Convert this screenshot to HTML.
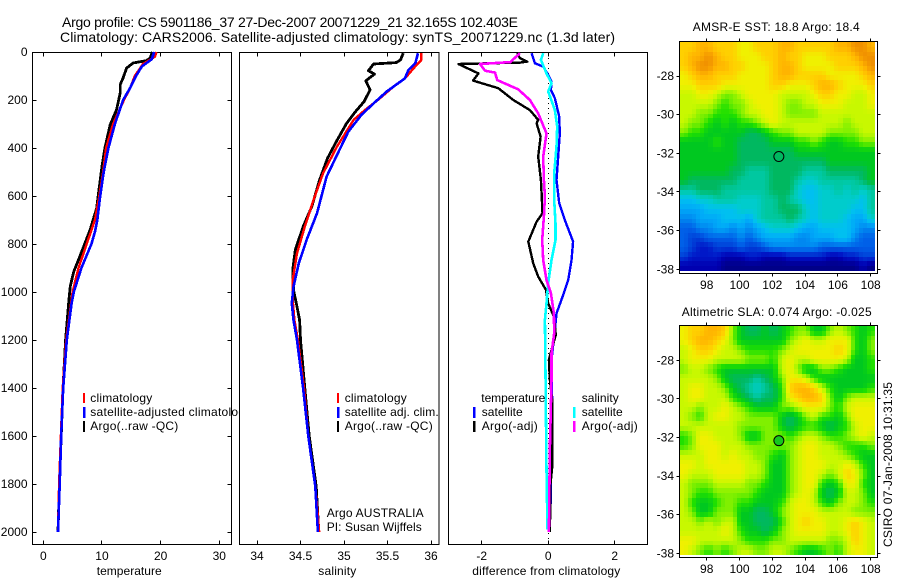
<!DOCTYPE html>
<html>
<head>
<meta charset="utf-8">
<title>Argo profile</title>
<style>
html,body{margin:0;padding:0;background:#fff;}
svg{display:block;font-family:"Liberation Sans",sans-serif;font-size:12px;fill:#000;}
.frame{fill:#fff;stroke:#000;stroke-width:1;shape-rendering:crispEdges;}
.nofill{fill:none;stroke:#000;stroke-width:1;shape-rendering:crispEdges;}
.tick{stroke:#000;stroke-width:1;shape-rendering:crispEdges;}
.series{fill:none;shape-rendering:crispEdges;stroke-linejoin:round;}
</style>
</head>
<body>
<svg id="chart" xmlns="http://www.w3.org/2000/svg" width="900" height="580" viewBox="0 0 900 580">
  <rect x="0" y="0" width="900" height="580" fill="#fff"/>
  <text x="62" y="27" font-size="14" textLength="456" lengthAdjust="spacing">Argo profile: CS 5901186_37 27-Dec-2007 20071229_21 32.165S 102.403E</text>
  <text x="60" y="42" font-size="14" textLength="555" lengthAdjust="spacing">Climatology: CARS2006. Satellite-adjusted climatology: synTS_20071229.nc (1.3d later)</text>

  <g id="panel-temp">
    <rect class="frame" x="32.5" y="52.5" width="199" height="492"/>
    <g id="temp-series"></g>
    <g id="temp-ticks"></g>
    <text x="96.7" y="575" textLength="65">temperature</text>
    <g>
      <rect x="83" y="393" width="2" height="10" fill="#ff0000"/>
      <rect x="83" y="407" width="2.5" height="11" fill="#0000ff"/>
      <rect x="83" y="421" width="2" height="11" fill="#000"/>
      <text x="90.3" y="402" textLength="62">climatology</text>
      <text x="90.3" y="416" textLength="161">satellite-adjusted climatology</text>
      <text x="90.3" y="430" textLength="88">Argo(..raw -QC)</text>
    </g>
  </g>

  <g id="panel-sal">
    <rect class="frame" x="239.5" y="52.5" width="199.5" height="492"/>
    <g id="sal-series"></g>
    <g id="sal-ticks"></g>
    <text x="318.3" y="575" textLength="38">salinity</text>
    <g>
      <rect x="337" y="393" width="2" height="10" fill="#ff0000"/>
      <rect x="337" y="407" width="2.5" height="11" fill="#0000ff"/>
      <rect x="337" y="421" width="2" height="11" fill="#000"/>
      <text x="344.7" y="402" textLength="62">climatology</text>
      <text x="344.7" y="416" textLength="94">satellite adj. clim.</text>
      <text x="344.7" y="430" textLength="88">Argo(..raw -QC)</text>
    </g>
    <text x="326.7" y="517" textLength="97">Argo AUSTRALIA</text>
    <text x="326.7" y="531" textLength="95">PI: Susan Wijffels</text>
  </g>

  <g id="panel-diff">
    <rect class="frame" x="448.5" y="52.5" width="199" height="492"/>
    <line id="zero-line" stroke="#000" stroke-width="1" stroke-dasharray="1 4" shape-rendering="crispEdges"/>
    <g id="diff-series"></g>
    <g id="diff-ticks"></g>
    <text x="472.3" y="575" textLength="148">difference from climatology</text>
    <g>
      <text x="481.3" y="402" textLength="64">temperature</text>
      <rect x="473" y="407" width="2.5" height="11" fill="#0000ff"/>
      <text x="481.7" y="416" textLength="41">satellite</text>
      <rect x="473" y="421" width="2.5" height="11" fill="#000"/>
      <text x="481.7" y="430" textLength="56">Argo(-adj)</text>
      <text x="581.7" y="402" textLength="37">salinity</text>
      <rect x="573" y="407" width="2.5" height="11" fill="#00ffff"/>
      <text x="581.7" y="416" textLength="41">satellite</text>
      <rect x="573" y="421" width="2.5" height="11" fill="#ff00ff"/>
      <text x="581.7" y="430" textLength="56">Argo(-adj)</text>
    </g>
  </g>

  <g id="map-sst"></g>
  <g id="map-sla"></g>
  <text x="692.7" y="31" textLength="167">AMSR-E SST: 18.8 Argo: 18.4</text>
  <text x="681.7" y="316" textLength="190">Altimetric SLA: 0.074 Argo: -0.025</text>
  <text transform="translate(892,547) rotate(-90)" textLength="165">CSIRO 07-Jan-2008 10:31:35</text>
</svg>

<script>
// ---------- profile data ----------
const tempTicks = [0, 10, 20, 30];
const salTicks = [34, 34.5, 35, 35.5, 36];
const salTickLabels = ['34', '34.5', '35', '35.5', '36'];
const diffTicks = [-2, 0, 2];
const depthTicks = [0, 200, 400, 600, 800, 1000, 1200, 1400, 1600, 1800, 2000];

const tempArgoDepth = [0, 25, 36, 46, 67, 108, 136, 171, 240, 303, 400, 476, 573, 650, 740, 835, 915, 975, 1025, 1200, 1400, 1600, 1800, 2000];
const tempArgoValues = [18.6, 18.2, 17.6, 15.3, 14.2, 13.6, 13.1, 13.1, 12.5, 11.4, 10.5, 10, 9.5, 9.1, 8, 6.5, 5.2, 4.6, 4.4, 3.8, 3.35, 3.05, 2.75, 2.5];
const tempClimDepth = [0, 20, 50, 100, 150, 200, 300, 400, 500, 600, 700, 800, 900, 1000, 1200, 1400, 1600, 1800, 2000];
const tempClimValues = [19.3, 19, 17, 15.6, 14.8, 13.75, 11.9, 10.7, 10.2, 9.55, 8.8, 7.4, 6, 5, 3.9, 3.3, 3, 2.7, 2.5];
const tempSatDepth = [0, 30, 60, 100, 150, 200, 300, 400, 500, 600, 700, 750, 800, 900, 1000, 1050, 1200, 1400, 1600, 1800, 2000];
const tempSatValues = [18.9, 18.5, 16.8, 15.8, 14.8, 13.6, 12.2, 11.1, 10.3, 9.7, 9.2, 8.8, 8.2, 6.5, 5.2, 4.8, 4, 3.4, 3.05, 2.8, 2.5];

const salArgoDepth = [5, 33, 44, 50, 78, 92, 120, 158, 207, 249, 297, 374, 443, 533, 644, 728, 825, 908, 992, 1061, 1117, 1200, 1400, 1600, 1810, 2000];
const salArgoValues = [35.68, 35.65, 35.6, 35.34, 35.28, 35.35, 35.25, 35.3, 35.23, 35.13, 35.03, 34.91, 34.81, 34.72, 34.63, 34.53, 34.44, 34.41, 34.42, 34.46, 34.49, 34.5, 34.55, 34.6, 34.68, 34.71];
const salClimDepth = [5, 33, 68, 110, 144, 200, 242, 283, 394, 505, 617, 728, 839, 950, 1033, 1117, 1200, 1400, 1600, 1810, 2000];
const salClimValues = [35.89, 35.89, 35.8, 35.7, 35.57, 35.39, 35.24, 35.11, 34.92, 34.76, 34.65, 34.55, 34.46, 34.41, 34.41, 34.43, 34.47, 34.54, 34.59, 34.67, 34.715];
const salSatDepth = [5, 47, 75, 110, 165, 214, 262, 332, 429, 519, 672, 783, 880, 978, 1047, 1117, 1200, 1400, 1600, 1810, 2000];
const salSatValues = [35.85, 35.82, 35.74, 35.7, 35.49, 35.34, 35.2, 35.05, 34.92, 34.8, 34.69, 34.57, 34.48, 34.42, 34.4, 34.42, 34.46, 34.53, 34.59, 34.67, 34.7];

const diffTempSatDepth = [5, 47, 61, 96, 124, 158, 193, 269, 339, 436, 533, 630, 700, 790, 867, 950, 1012, 1089, 1158, 1283, 1367, 1450, 1600, 1900, 2000];
const diffTempSatValues = [-0.5, -0.4, -0.15, 0, 0.1, 0.08, 0.2, 0.33, 0.35, 0.3, 0.25, 0.33, 0.5, 0.75, 0.7, 0.6, 0.45, 0.25, 0.2, 0.1, 0.1, 0.12, 0.1, 0.07, 0.03];
const diffTempArgoDepth = [5, 26, 40, 44, 50, 89, 119, 151, 200, 242, 283, 297, 353, 436, 533, 589, 672, 707, 790, 880, 936, 991, 1047, 1103, 1179, 1241, 1283, 1367, 1450, 1730, 1800, 2000];
const diffTempArgoValues = [-0.93, -0.85, -0.63, -0.85, -2.7, -2.1, -2.26, -1.5, -1.05, -0.55, -0.3, -0.35, -0.23, -0.3, -0.22, -0.2, -0.17, -0.35, -0.6, -0.45, -0.3, -0.07, 0, 0.17, 0.23, 0.1, 0.02, 0.05, 0.12, 0.12, 0.07, 0.05];
const diffSalSatDepth = [5, 33, 89, 130, 165, 242, 311, 394, 505, 616, 714, 783, 867, 964, 1047, 1117, 1339, 1500, 1740, 1990];
const diffSalSatValues = [-0.15, -0.22, -0.05, 0.1, 0, 0.2, 0.27, 0.25, 0.18, 0.18, 0.22, 0.22, 0.1, 0, -0.05, -0.1, -0.08, -0.07, -0.05, -0.02];
const diffSalArgoDepth = [5, 42, 50, 78, 86, 117, 156, 200, 256, 339, 436, 533, 602, 686, 783, 867, 950, 1005, 1089, 1172, 1255, 1367, 1644, 2000];
const diffSalArgoValues = [-0.85, -1.14, -2.05, -1.9, -1.6, -1.53, -0.9, -0.55, -0.3, -0.05, -0.15, -0.13, -0.1, -0.13, -0.18, -0.15, -0.05, 0.08, 0.17, 0.18, 0.1, 0.1, 0.05, 0.02];

// ---------- map data (colour-level per 0.5 degree cell, north at top) ----------
const mapLonTicks = [98, 100, 102, 104, 106, 108];
const mapLatTicks = [-28, -30, -32, -34, -36, -38];
const argoLon = [102.4];
const argoLat = [-32.165];

const sstLevels = [
[16,16,17,17,16,16,16,15,15,16,16,16,17,17,16,16,16,16,16,17,17,18,18,17],
[16,17,17,18,17,16,16,15,15,15,16,16,17,16,16,15,15,15,16,16,16,17,18,18],
[16,17,18,18,17,17,16,16,15,15,15,16,17,17,16,15,15,15,15,16,16,16,17,18],
[15,16,17,17,16,16,16,15,15,15,15,16,17,17,16,16,16,16,15,15,15,15,16,17],
[15,15,16,16,16,15,15,15,15,15,15,16,16,15,15,15,16,17,17,16,15,15,15,16],
[14,14,15,15,14,13,13,14,15,15,15,15,14,14,14,14,15,16,16,15,15,14,14,15],
[14,14,14,14,13,12,13,13,14,15,15,15,14,13,13,14,14,15,15,15,14,14,14,15],
[14,14,13,13,12,12,12,13,14,14,15,15,14,13,13,13,13,14,14,14,14,14,14,14],
[14,13,13,12,11,12,11,12,12,13,14,15,14,14,14,14,14,14,14,14,13,14,14,14],
[13,12,12,11,11,11,11,11,10,10,11,12,13,13,14,14,14,14,13,13,13,13,14,14],
[11,11,11,11,12,11,11,10,10,10,10,11,11,11,12,12,13,12,11,11,12,12,13,13],
[11,11,11,11,11,11,11,10,10,10,10,10,10,10,11,11,11,11,11,11,11,11,11,11],
[11,11,11,11,11,11,11,10,10,10,10,10,10,10,10,10,10,10,11,11,11,11,11,11],
[11,11,11,11,11,11,10,10,9,9,9,10,10,10,10,9,9,9,10,10,10,10,10,11],
[11,10,10,10,10,10,10,9,9,9,9,10,10,10,9,8,8,9,9,9,9,9,10,11],
[9,9,10,10,10,9,9,9,9,9,9,10,10,10,8,7,7,8,8,9,8,9,8,9],
[7,7,8,8,9,9,9,8,8,8,9,9,10,9,8,7,7,8,8,8,8,8,7,9],
[6,6,6,7,7,7,7,8,8,8,9,9,10,10,10,8,7,8,8,8,8,7,7,9],
[5,5,6,6,6,7,7,7,6,8,9,9,9,10,9,8,7,8,8,8,7,6,6,8],
[4,4,5,5,6,6,5,6,5,6,7,8,8,8,7,6,6,7,7,7,7,6,5,5],
[4,3,3,4,4,4,4,5,4,5,6,6,6,6,5,5,6,6,6,7,7,5,4,4],
[4,3,2,2,3,3,3,4,3,3,4,5,5,5,5,5,5,4,4,4,4,4,4,4],
[3,2,2,2,2,1,1,1,2,2,1,1,1,2,2,2,2,2,1,1,2,2,3,3],
[1,1,1,1,1,0,0,0,0,0,0,0,0,0,0,0,0,0,0,0,0,0,1,0]
];

const slaLevels = [
[15,16,16,17,17,16,13,11,10,10,11,10,11,12,13,13,11,11,13,14,13,12,11,12],
[15,16,17,17,16,15,13,11,11,11,11,11,11,13,14,15,14,14,15,15,15,12,11,13],
[14,15,16,16,15,14,14,13,12,12,12,12,13,14,15,15,15,15,15,16,15,12,11,13],
[14,15,15,15,14,14,14,14,13,13,13,12,14,15,14,14,15,15,15,15,14,11,11,12],
[13,14,14,13,12,11,11,11,11,11,11,11,14,15,13,11,11,13,13,12,11,11,11,12],
[14,14,14,14,13,11,10,10,10,9,10,11,13,15,15,14,12,11,11,11,11,11,11,11],
[14,15,15,14,14,13,11,10,9,8,9,10,12,16,17,17,16,14,12,11,11,11,11,12],
[14,15,15,14,14,14,12,11,10,9,10,10,12,15,16,17,17,16,13,11,13,14,14,14],
[14,14,13,14,14,15,14,13,12,11,11,11,13,13,14,15,15,15,13,12,14,15,15,15],
[14,13,12,14,15,15,14,14,13,13,13,13,11,10,11,13,14,12,12,11,13,15,15,15],
[14,14,14,14,14,14,14,13,13,13,13,13,11,10,11,12,12,11,10,11,12,14,15,15],
[12,13,15,15,14,14,14,13,11,11,13,13,13,12,13,14,14,13,12,12,13,14,15,14],
[12,13,15,15,15,14,14,14,13,13,13,13,13,13,14,15,15,14,14,13,12,12,12,13],
[14,14,14,15,15,14,15,14,14,13,13,12,11,13,14,15,15,14,14,14,13,12,11,11],
[15,15,14,15,15,15,15,15,14,14,13,11,11,13,14,15,15,15,14,14,15,14,12,11],
[15,14,14,14,15,15,15,15,14,14,13,11,11,13,14,15,15,14,13,14,16,15,13,11],
[14,13,13,13,14,14,14,14,13,13,12,11,11,13,14,15,15,12,11,12,15,15,12,11],
[14,13,12,12,13,13,13,13,13,12,11,11,11,13,14,15,14,11,10,11,14,14,13,11],
[14,12,11,11,12,13,13,12,12,11,11,11,12,14,15,15,14,12,11,13,14,14,13,12],
[14,13,11,11,13,13,13,11,11,10,10,11,13,14,15,15,15,14,14,14,14,13,13,13],
[14,14,13,14,13,14,14,11,11,10,10,10,12,14,15,16,15,15,14,14,15,16,15,14],
[14,14,14,14,14,15,14,12,11,11,10,11,13,14,15,15,15,15,14,14,15,16,15,14],
[15,15,14,14,14,14,14,13,12,12,12,13,13,14,14,14,14,14,13,13,14,16,15,14],
[15,14,13,12,13,12,13,14,14,13,13,14,14,13,12,11,11,12,13,12,14,15,15,14]
];

// ---------- helpers ----------
const SVGNS = 'http://www.w3.org/2000/svg';
function make(tag, parent, attrs) {
  const el = document.createElementNS(SVGNS, tag);
  for (const k in attrs) el.setAttribute(k, attrs[k]);
  parent.appendChild(el);
  return el;
}
function linear(d0, d1, r0, r1) {
  return function (v) { return r0 + (v - d0) * (r1 - r0) / (d1 - d0); };
}

const yDepth = linear(0, 2000, 52, 532);
const xTemp = linear(0, 30, 43.3, 219.3);
const xSal = linear(34, 36, 257, 431);
const xDiff = linear(-2, 2, 481.7, 614.7);
const AX_TOP = 52.5, AX_BOTTOM = 544.5;

function drawProfile(parent, xScale, depth, values, color, width, name) {
  const pts = depth.map(function (d, i) { return xScale(values[i]).toFixed(1) + ',' + yDepth(d).toFixed(1); }).join(' ');
  const el = make('polyline', parent, { 'class': 'series', points: pts, stroke: color, 'stroke-width': width });
  
  
}

function drawXTicks(parent, ticks, labels, xScale) {
  ticks.forEach(function (t, i) {
    const x = Math.floor(xScale(t)) + 0.5;
    const top = make('line', parent, { 'class': 'tick', x1: x, x2: x, y1: AX_TOP, y2: AX_TOP + 4 });
    
    
    const bottom = make('line', parent, { 'class': 'tick', x1: x, x2: x, y1: AX_BOTTOM - 4, y2: AX_BOTTOM });
    
    
    const label = make('text', parent, { x: xScale(t), y: 560, 'text-anchor': 'middle' });
    label.textContent = labels[i];
    
    
  });
}

// ---------- temperature panel ----------
const tempG = document.getElementById('temp-series');
drawProfile(tempG, xTemp, tempArgoDepth, tempArgoValues, '#000000', 2.8, 'temperature-argo-line');
drawProfile(tempG, xTemp, tempClimDepth, tempClimValues, '#ff0000', 2.4, 'temperature-climatology-line');
drawProfile(tempG, xTemp, tempSatDepth, tempSatValues, '#0000ff', 2.6, 'temperature-satellite-line');
const tempTickG = document.getElementById('temp-ticks');
drawXTicks(tempTickG, tempTicks, tempTicks.map(String), xTemp);
depthTicks.forEach(function (d) {
  const y = Math.floor(yDepth(d)) + 0.5;
  if (d > 0) {
    const left = make('line', tempTickG, { 'class': 'tick', x1: 32.5, x2: 36.5, y1: y, y2: y });
    
    
    const right = make('line', tempTickG, { 'class': 'tick', x1: 227.5, x2: 231.5, y1: y, y2: y });
    
    
  }
  const label = make('text', tempTickG, { x: 27.5, y: yDepth(d) + 4, 'text-anchor': 'end' });
  label.textContent = String(d);
  
  
});

// ---------- salinity panel ----------
const salG = document.getElementById('sal-series');
drawProfile(salG, xSal, salArgoDepth, salArgoValues, '#000000', 2.8, 'salinity-argo-line');
drawProfile(salG, xSal, salClimDepth, salClimValues, '#ff0000', 2.4, 'salinity-climatology-line');
drawProfile(salG, xSal, salSatDepth, salSatValues, '#0000ff', 2.6, 'salinity-satellite-line');
drawXTicks(document.getElementById('sal-ticks'), salTicks, salTickLabels, xSal);

// ---------- difference panel ----------
const zero = document.getElementById('zero-line');
zero.setAttribute('x1', Math.floor(xDiff(0)) + 0.5);
zero.setAttribute('x2', Math.floor(xDiff(0)) + 0.5);
zero.setAttribute('y1', 53);
zero.setAttribute('y2', AX_BOTTOM);
const diffG = document.getElementById('diff-series');
drawProfile(diffG, xDiff, diffTempSatDepth, diffTempSatValues, '#0000ff', 2.4, 'difference-temperature-satellite-line');
drawProfile(diffG, xDiff, diffTempArgoDepth, diffTempArgoValues, '#000000', 2.4, 'difference-temperature-argo-line');
drawProfile(diffG, xDiff, diffSalSatDepth, diffSalSatValues, '#00ffff', 2.6, 'difference-salinity-satellite-line');
drawProfile(diffG, xDiff, diffSalArgoDepth, diffSalArgoValues, '#ff00ff', 2.6, 'difference-salinity-argo-line');
drawXTicks(document.getElementById('diff-ticks'), diffTicks, diffTicks.map(String), xDiff);

// ---------- maps ----------
const paletteStops = [[0,0,136],[0,0,176],[0,24,200],[0,64,216],[0,96,232],[0,136,240],[0,168,248],[0,192,240],[0,204,204],[0,200,160],[0,184,96],[0,200,32],[32,224,0],[128,240,0],[200,248,0],[240,240,0],[255,208,0],[255,180,0],[240,144,0]];

function levelColor(v) {
  const lo = Math.max(0, Math.min(paletteStops.length - 1, Math.floor(v)));
  const hi = Math.min(paletteStops.length - 1, lo + 1);
  const f = v - lo;
  const a = paletteStops[lo];
  const b = paletteStops[hi];
  return 'rgb(' + Math.round(a[0] + (b[0] - a[0]) * f) + ',' + Math.round(a[1] + (b[1] - a[1]) * f) + ',' + Math.round(a[2] + (b[2] - a[2]) * f) + ')';
}
function sampleLevel(levels, r, c) {
  const rows = levels.length;
  const cols = levels[0].length;
  const rr = Math.max(0, Math.min(rows - 1, r));
  const cc = Math.max(0, Math.min(cols - 1, c));
  const r0 = Math.floor(rr);
  const c0 = Math.floor(cc);
  const r1 = Math.min(rows - 1, r0 + 1);
  const c1 = Math.min(cols - 1, c0 + 1);
  const fr = rr - r0;
  const fc = cc - c0;
  const top = levels[r0][c0] * (1 - fc) + levels[r0][c1] * fc;
  const bottom = levels[r1][c0] * (1 - fc) + levels[r1][c1] * fc;
  return top * (1 - fr) + bottom * fr;
}

function drawMap(group, levels, box, latAt38, latAt28, cellName, markerFill) {
  const xLon = linear(98, 108, 706.7, 870.7);
  const yLat = linear(-28, -38, latAt28, latAt38);
  const rows = levels.length * 2;
  const cols = levels[0].length * 2;
  const cw = (box.imgRight - box.left) / cols;
  const ch = (box.imgBottom - box.top) / rows;
  for (let r = 0; r < rows; r++) {
    for (let c = 0; c < cols; c++) {
      const x0 = Math.round(box.left + c * cw);
      const x1 = Math.round(box.left + (c + 1) * cw);
      const y0 = Math.round(box.top + r * ch);
      const y1 = Math.round(box.top + (r + 1) * ch);
      const v = sampleLevel(levels, (r + 0.5) / 2 - 0.5, (c + 0.5) / 2 - 0.5);
      const cell = make('rect', group, { x: x0, y: y0, width: x1 - x0, height: y1 - y0, fill: levelColor(v), 'shape-rendering': 'crispEdges' });
      
      
    }
  }
  const frame = make('rect', group, { 'class': 'nofill', x: box.left - 0.5, y: box.top - 0.5, width: box.right - box.left + 1, height: box.bottom - box.top + 1 });
  
  

  mapLonTicks.forEach(function (lon) {
    const x = Math.floor(xLon(lon)) + 0.5;
    const t1 = make('line', group, { 'class': 'tick', x1: x, x2: x, y1: box.top - 3.5, y2: box.top });
    
    
    const t2 = make('line', group, { 'class': 'tick', x1: x, x2: x, y1: box.bottom, y2: box.bottom + 3.5 });
    
    
    const label = make('text', group, { x: xLon(lon), y: box.bottom + 16, 'text-anchor': 'middle' });
    label.textContent = String(lon);
    
    
  });
  mapLatTicks.forEach(function (lat) {
    const y = Math.floor(yLat(lat)) + 0.5;
    const t1 = make('line', group, { 'class': 'tick', x1: box.left - 3.5, x2: box.left, y1: y, y2: y });
    
    
    const t2 = make('line', group, { 'class': 'tick', x1: box.right, x2: box.right + 3.5, y1: y, y2: y });
    
    
    const label = make('text', group, { x: 674, y: yLat(lat) + 4, 'text-anchor': 'end' });
    label.textContent = String(lat);
    
    
  });
  const marker = make('circle', group, { cx: xLon(argoLon[0]), cy: yLat(argoLat[0]), r: 5, fill: markerFill, stroke: '#000', 'stroke-width': 1 });
  
  
}

drawMap(document.getElementById('map-sst'), sstLevels,
  { left: 680, right: 877, imgRight: 875, top: 42, bottom: 273, imgBottom: 271 },
  269.3, 76, 'sst-cell', 'none');
drawMap(document.getElementById('map-sla'), slaLevels,
  { left: 680, right: 877, imgRight: 875, top: 326, bottom: 557, imgBottom: 555 },
  553.3, 360.3, 'sla-cell', '#14c81e');
</script>
</body>
</html>
